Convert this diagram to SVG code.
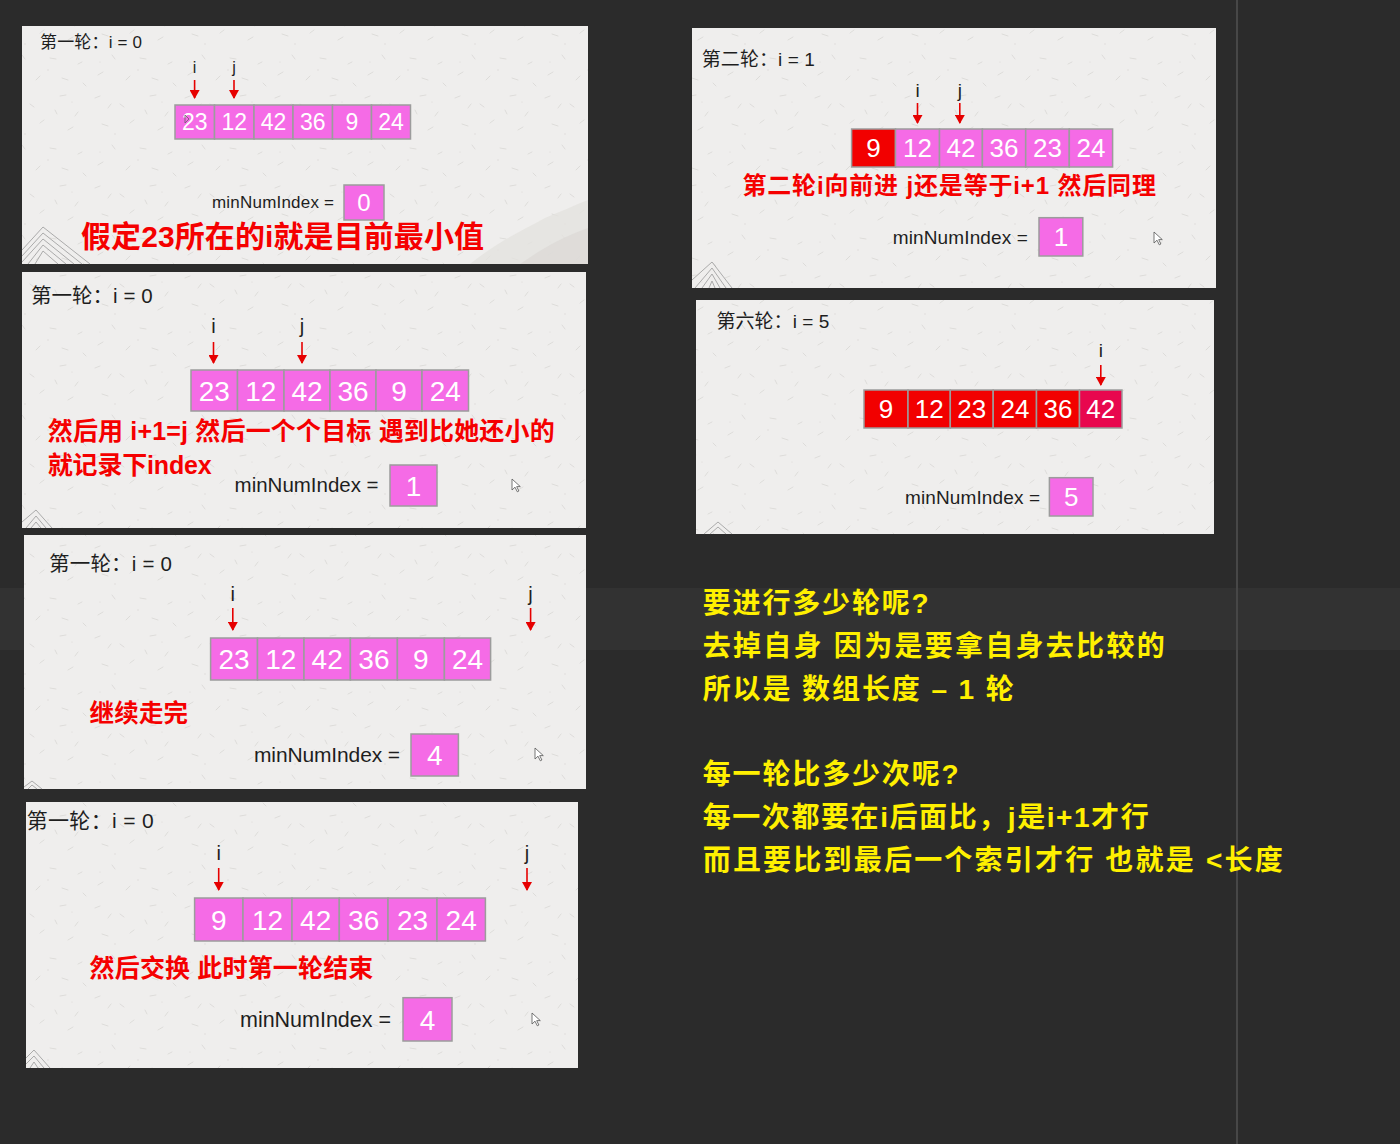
<svg xmlns="http://www.w3.org/2000/svg" width="1400" height="1144" viewBox="0 0 1400 1144">
<defs>
<pattern id="paper" width="90" height="90" patternUnits="userSpaceOnUse">
<rect width="90" height="90" fill="#efeeed"/>
<g stroke="#d6d4d1" stroke-width="0.7" stroke-linecap="round" fill="none">
<path d="M5 8 l5 -2"/><path d="M30 14 l4 3"/><path d="M60 6 l6 -1"/><path d="M78 22 l-3 4"/>
<path d="M12 34 l6 2"/><path d="M44 30 l-4 3"/><path d="M68 40 l5 -3"/><path d="M22 55 l3 4"/>
<path d="M50 58 l6 1"/><path d="M82 62 l-4 2"/><path d="M8 75 l5 -3"/><path d="M36 80 l4 -4"/>
<path d="M62 78 l6 2"/><path d="M86 86 l-3 -3"/><path d="M18 18 l3 -4"/><path d="M55 20 l2 4"/>
</g>
<g fill="#dcdad7"><circle cx="25" cy="44" r="0.7"/><circle cx="72" cy="12" r="0.6"/><circle cx="48" cy="70" r="0.7"/><circle cx="10" cy="62" r="0.6"/></g>
</pattern>
<marker id="ah" markerUnits="userSpaceOnUse" markerWidth="9" markerHeight="10" refX="8" refY="5" orient="auto">
<path d="M0 0 L9 5 L0 10 Z" fill="#e60000"/>
</marker>
<path id="cur" d="M0 0 L0 11 L3 8.2 L5.3 12.8 L6.9 12 L4.7 7.6 L8.3 7.6 Z" fill="#fff" stroke="#555" stroke-width="0.8"/>
<style>
.panel{fill:url(#paper)}
.cell{fill:#f56be6;stroke:#9c9c9c;stroke-width:1.5}
.red{fill:#f20000;stroke:#9c9c9c;stroke-width:1.5}
.crim{fill:#e8074e;stroke:#9c9c9c;stroke-width:1.5}
.val{fill:#fff;font-family:"Liberation Sans",Arial,sans-serif;text-anchor:middle}
.lbl{fill:#1e1e1e;font-family:"Liberation Sans","Noto Sans CJK SC",sans-serif}
.ptr{fill:#1e1e1e;font-family:"Liberation Sans",Arial,sans-serif;text-anchor:middle}
.note{fill:#f50000;font-family:"Liberation Sans","Noto Sans CJK SC",sans-serif;font-weight:bold}
.yel{fill:#fff000;font-family:"Liberation Sans","Noto Sans CJK SC",sans-serif;font-weight:bold;font-size:28px}
.arr{stroke:#e60000;stroke-width:1.6;marker-end:url(#ah)}
.hatch{fill:none;stroke:#a3a3a3;stroke-width:0.9}
</style>
</defs>
<rect width="1400" height="1144" fill="#2b2b2b"/>
<rect x="0" y="588" width="1400" height="62" fill="#323232"/>
<rect x="1236" y="0" width="2" height="1144" fill="#474747"/>

<!-- Panel 1 -->
<g id="panel1">
<rect class="panel" x="22" y="26" width="566" height="238"/>
<path d="M470 264 C500 240 520 232 545 218 C560 212 575 205 588 200 L588 264 Z" fill="#e4e2df" opacity="0.8"/>
<path d="M520 264 C540 250 560 238 588 228 L588 264 Z" fill="#dcd9d5" opacity="0.7"/>
<g class="hatch"><path d="M22 250 L43 227 L90 264"/><path d="M22 256 L43 233 L82 264"/><path d="M22 262 L43 239 L74 264"/><path d="M28 264 L43 245 L66 264"/><path d="M35 264 L43 251 L58 264"/></g>
<text class="lbl" x="40" y="48" font-size="17" textLength="102">第一轮：i = 0</text>
<text class="ptr" x="194.6" y="73" font-size="16">i</text>
<text class="ptr" x="234" y="73" font-size="16">j</text>
<line class="arr" x1="194.6" y1="80" x2="194.6" y2="98"/>
<line class="arr" x1="234" y1="80" x2="234" y2="98"/>
<g>
<rect class="cell" x="175" y="105" width="39.5" height="34"/><rect class="cell" x="214.5" y="105" width="39.5" height="34"/><rect class="cell" x="254" y="105" width="39" height="34"/><rect class="cell" x="293" y="105" width="39.5" height="34"/><rect class="cell" x="332.5" y="105" width="39" height="34"/><rect class="cell" x="371.5" y="105" width="39" height="34"/>
<text class="val" font-size="23" y="130"><tspan x="194.8">23</tspan><tspan x="234.3">12</tspan><tspan x="273.5">42</tspan><tspan x="312.8">36</tspan><tspan x="352">9</tspan><tspan x="391">24</tspan></text>
</g>
<path d="M185 115 L185 123 L189 119 Z" fill="none" stroke="#666" stroke-width="0.8"/>
<text class="lbl" x="212" y="208" font-size="17" textLength="122">minNumIndex =</text>
<rect class="cell" x="344" y="185" width="40" height="35"/>
<text class="val" x="364" y="211" font-size="24">0</text>
<text class="note" x="81" y="247" font-size="30" textLength="403">假定23所在的i就是目前最小值</text>
</g>

<!-- Panel 2 -->
<g id="panel2">
<rect class="panel" x="22" y="272" width="564" height="256"/>
<g class="hatch"><path d="M22 522 L36 510 L52 528"/><path d="M26 528 L36 516 L46 528"/><path d="M31 528 L36 522 L41 528"/></g>
<text class="lbl" x="31" y="303" font-size="20.5" textLength="121.6">第一轮：i = 0</text>
<text class="ptr" x="213.5" y="333" font-size="20">i</text>
<text class="ptr" x="302" y="333" font-size="20">j</text>
<line class="arr" x1="213.5" y1="342" x2="213.5" y2="363"/>
<line class="arr" x1="302" y1="342" x2="302" y2="363"/>
<g>
<rect class="cell" x="191" y="370" width="46.5" height="41"/><rect class="cell" x="237.5" y="370" width="46.5" height="41"/><rect class="cell" x="284" y="370" width="46" height="41"/><rect class="cell" x="330" y="370" width="46" height="41"/><rect class="cell" x="376" y="370" width="46" height="41"/><rect class="cell" x="422" y="370" width="46.5" height="41"/>
<text class="val" font-size="28" y="401"><tspan x="214.3">23</tspan><tspan x="260.8">12</tspan><tspan x="307">42</tspan><tspan x="353">36</tspan><tspan x="399">9</tspan><tspan x="445.3">24</tspan></text>
</g>
<text class="note" x="47.7" y="440" font-size="25" textLength="507">然后用 i+1=j 然后一个个目标 遇到比她还小的</text>
<text class="note" x="47.7" y="474" font-size="25" textLength="164">就记录下index</text>
<text class="lbl" x="234.6" y="492" font-size="20.5" textLength="144">minNumIndex =</text>
<rect class="cell" x="390" y="465" width="47" height="41"/>
<text class="val" x="413.5" y="496" font-size="28">1</text>
<use href="#cur" x="512" y="479"/>
</g>

<!-- Panel 3 -->
<g id="panel3">
<rect class="panel" x="24" y="535" width="562" height="254"/>
<g class="hatch"><path d="M24 787 L32 781 L42 789"/><path d="M28 789 L32 785 L37 789"/></g>
<text class="lbl" x="49" y="571" font-size="20.5" textLength="123">第一轮：i = 0</text>
<text class="ptr" x="232.8" y="601" font-size="20">i</text>
<text class="ptr" x="530.6" y="601" font-size="20">j</text>
<line class="arr" x1="232.8" y1="608" x2="232.8" y2="630"/>
<line class="arr" x1="530.6" y1="608" x2="530.6" y2="630"/>
<g>
<rect class="cell" x="210.6" y="638" width="46.9" height="42"/><rect class="cell" x="257.5" y="638" width="46.5" height="42"/><rect class="cell" x="304" y="638" width="46.4" height="42"/><rect class="cell" x="350.4" y="638" width="47" height="42"/><rect class="cell" x="397.4" y="638" width="47" height="42"/><rect class="cell" x="444.4" y="638" width="46.2" height="42"/>
<text class="val" font-size="28" y="669"><tspan x="234">23</tspan><tspan x="280.8">12</tspan><tspan x="327.2">42</tspan><tspan x="373.9">36</tspan><tspan x="420.9">9</tspan><tspan x="467.5">24</tspan></text>
</g>
<text class="note" x="89.6" y="722" font-size="24.5" textLength="98.5">继续走完</text>
<text class="lbl" x="254" y="762" font-size="21" textLength="146">minNumIndex =</text>
<rect class="cell" x="411" y="734" width="47.4" height="42"/>
<text class="val" x="434.7" y="765" font-size="28">4</text>
<use href="#cur" x="535" y="748"/>
</g>

<!-- Panel 4 -->
<g id="panel4">
<rect class="panel" x="26" y="802" width="552" height="266"/>
<g class="hatch"><path d="M26 1058 L34 1050 L50 1068"/><path d="M26 1064 L34 1056 L44 1068"/><path d="M30 1068 L34 1062 L38 1068"/></g>
<text class="lbl" x="26.7" y="828" font-size="21" textLength="127">第一轮：i = 0</text>
<text class="ptr" x="218.7" y="860" font-size="20">i</text>
<text class="ptr" x="527" y="860" font-size="20">j</text>
<line class="arr" x1="218.7" y1="868" x2="218.7" y2="890"/>
<line class="arr" x1="527" y1="868" x2="527" y2="890"/>
<g>
<rect class="cell" x="194.6" y="898" width="48.4" height="43"/><rect class="cell" x="243" y="898" width="49" height="43"/><rect class="cell" x="292" y="898" width="47.3" height="43"/><rect class="cell" x="339.3" y="898" width="48.7" height="43"/><rect class="cell" x="388" y="898" width="49" height="43"/><rect class="cell" x="437" y="898" width="48.4" height="43"/>
<text class="val" font-size="28" y="930"><tspan x="218.8">9</tspan><tspan x="267.5">12</tspan><tspan x="315.7">42</tspan><tspan x="363.7">36</tspan><tspan x="412.5">23</tspan><tspan x="461.2">24</tspan></text>
</g>
<text class="note" x="89.6" y="977" font-size="25" textLength="283.7">然后交换 此时第一轮结束</text>
<text class="lbl" x="240" y="1027" font-size="21.5" textLength="151">minNumIndex =</text>
<rect class="cell" x="403" y="997.7" width="49" height="43.3"/>
<text class="val" x="427.5" y="1029.5" font-size="28">4</text>
<use href="#cur" x="532" y="1013"/>
</g>

<!-- Panel 5 -->
<g id="panel5">
<rect class="panel" x="692" y="28" width="524" height="260"/>
<g class="hatch"><path d="M692 280 L712 262 L732 288"/><path d="M695 288 L712 268 L726 288"/><path d="M702 288 L712 274 L720 288"/><path d="M709 288 L712 281 L715 288"/></g>
<text class="lbl" x="701.8" y="66" font-size="19" textLength="113">第二轮：i = 1</text>
<text class="ptr" x="917.5" y="97" font-size="19">i</text>
<text class="ptr" x="959.8" y="97" font-size="19">j</text>
<line class="arr" x1="917.5" y1="103" x2="917.5" y2="123"/>
<line class="arr" x1="959.8" y1="103" x2="959.8" y2="123"/>
<g>
<rect class="red" x="851.6" y="129" width="43.9" height="38"/><rect class="cell" x="895.5" y="129" width="44" height="38"/><rect class="cell" x="939.5" y="129" width="42.9" height="38"/><rect class="cell" x="982.4" y="129" width="43.3" height="38"/><rect class="cell" x="1025.7" y="129" width="43.6" height="38"/><rect class="cell" x="1069.3" y="129" width="43.3" height="38"/>
<text class="val" font-size="26" y="157"><tspan x="873.5">9</tspan><tspan x="917.5">12</tspan><tspan x="961">42</tspan><tspan x="1004">36</tspan><tspan x="1047.5">23</tspan><tspan x="1091">24</tspan></text>
</g>
<text class="note" x="742.4" y="194" font-size="24" textLength="413.5">第二轮i向前进 j还是等于i+1 然后同理</text>
<text class="lbl" x="892.8" y="244" font-size="19" textLength="135">minNumIndex =</text>
<rect class="cell" x="1039" y="217.7" width="43.8" height="38.3"/>
<text class="val" x="1061" y="246" font-size="26">1</text>
<use href="#cur" x="1154" y="232"/>
</g>

<!-- Panel 6 -->
<g id="panel6">
<rect class="panel" x="696" y="300" width="518" height="234"/>
<g class="hatch"><path d="M704 534 L718 522 L732 534"/><path d="M710 534 L718 527 L726 534"/></g>
<text class="lbl" x="716.4" y="328" font-size="19" textLength="113">第六轮：i = 5</text>
<text class="ptr" x="1100.8" y="357" font-size="19">i</text>
<line class="arr" x1="1100.8" y1="365" x2="1100.8" y2="385"/>
<g>
<rect class="red" x="864" y="390" width="44" height="38"/><rect class="red" x="908" y="390" width="42.3" height="38"/><rect class="red" x="950.3" y="390" width="42.9" height="38"/><rect class="red" x="993.2" y="390" width="43.3" height="38"/><rect class="red" x="1036.5" y="390" width="43" height="38"/><rect class="crim" x="1079.5" y="390" width="42.5" height="38"/>
<text class="val" font-size="26" y="418"><tspan x="886">9</tspan><tspan x="929.2">12</tspan><tspan x="971.8">23</tspan><tspan x="1014.9">24</tspan><tspan x="1058">36</tspan><tspan x="1100.8">42</tspan></text>
</g>
<text class="lbl" x="905" y="504" font-size="19" textLength="135">minNumIndex =</text>
<rect class="cell" x="1049.4" y="477.7" width="43.6" height="38.3"/>
<text class="val" x="1071.2" y="506" font-size="26">5</text>
</g>

<!-- Notes -->
<g id="notes">
<text class="yel" x="702.7" y="613" textLength="226">要进行多少轮呢?</text>
<text class="yel" x="702.7" y="656" textLength="462">去掉自身 因为是要拿自身去比较的</text>
<text class="yel" x="702.7" y="699" textLength="311">所以是 数组长度 – 1 轮</text>
<text class="yel" x="702.7" y="784" textLength="256">每一轮比多少次呢?</text>
<text class="yel" x="702.7" y="827" textLength="446">每一次都要在i后面比，j是i+1才行</text>
<text class="yel" x="702.7" y="870" textLength="580">而且要比到最后一个索引才行 也就是 &lt;长度</text>
</g>
</svg>
